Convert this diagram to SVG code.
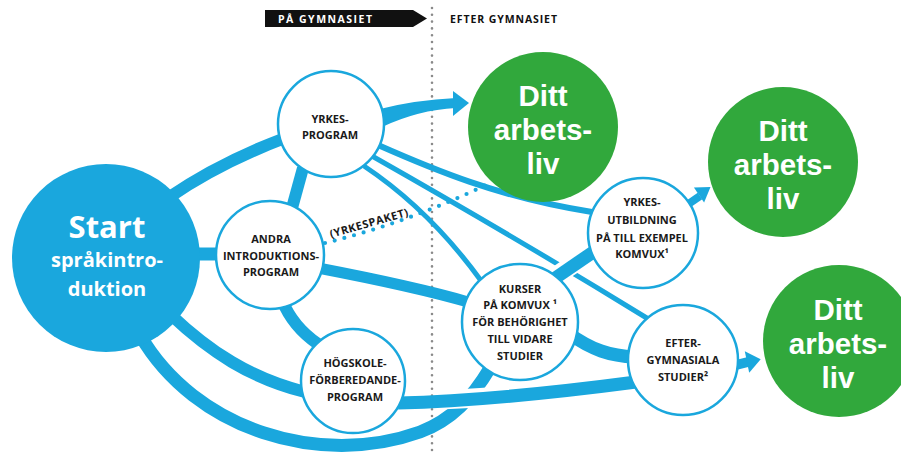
<svg xmlns="http://www.w3.org/2000/svg" width="901" height="454" viewBox="0 0 901 454">
<defs>
<style>
.band{fill:none;stroke:#1aa7dd;stroke-linecap:butt}
.halo{fill:none;stroke:#ffffff}
.blue{fill:#1aa7dd}
.node{fill:#ffffff;stroke:#1aa7dd;stroke-width:2.5}
.green{fill:#31a83c}
.nt{font-family:"Open Sans","Liberation Sans",sans-serif;font-weight:700;font-size:11px;fill:#1a1a1a;text-anchor:middle}
.gt{font-family:"Liberation Sans",Arial,sans-serif;font-weight:700;font-size:29.5px;fill:#ffffff;text-anchor:middle}
.st{font-family:"Open Sans","Liberation Sans",sans-serif;font-weight:700;fill:#ffffff;text-anchor:middle}
.hd{font-family:"Open Sans","Liberation Sans",sans-serif;font-weight:700;font-size:10.5px}
</style>
</defs>
<rect width="901" height="454" fill="#ffffff"/>

<g id="header">
<polygon points="265,10 413,10 427,18.5 413,27 265,27" fill="#111111"/>
<text class="hd" x="278" y="22.5" fill="#ffffff" textLength="94" lengthAdjust="spacing">PÅ GYMNASIET</text>
<text class="hd" x="450" y="22.5" fill="#111111" textLength="107" lengthAdjust="spacing">EFTER GYMNASIET</text>
</g>

<line id="divider" x1="432" y1="8" x2="432" y2="454" stroke="#8a8a8a" stroke-width="2.6" stroke-linecap="round" stroke-dasharray="0 6.8"/>

<g id="connectors">
<path class="band" stroke-width="13" d="M 140 335 C 195 430, 320 468, 420 432 C 452 420, 472 398, 490 368"/>
<path class="band" stroke-width="12" d="M 170 314 C 210 352, 250 378, 305 392"/>
<path class="band" stroke-width="12" d="M 168 198 C 200 176, 240 155, 285 138"/>
<path class="band" stroke-width="13" d="M 185 254 L 222 254"/>
<path class="band" stroke-width="12" d="M 303 168 L 292 208"/>
<path class="band" stroke-width="12" d="M 282 300 C 290 320, 302 333, 318 344"/>
<path class="band" stroke-width="11" d="M 318 268 C 370 278, 420 288, 468 302"/>
<path class="band" stroke-width="6" d="M 378 145 C 430 168, 500 198, 592 212"/>
<path class="band" stroke-width="5" d="M 372 156 Q 520 240 650 320"/>
<path class="band" stroke-width="5" d="M 364 166 Q 430 210 482 282"/>
<path class="halo" stroke-width="19" d="M 556 276 L 596 249"/>
<path class="band" stroke-width="13" d="M 548 283 L 602 246"/>
<path class="band" stroke-width="13" d="M 568 333 C 592 350, 610 356, 635 357"/>
<path class="halo" stroke-width="19" d="M 440 400 C 500 397, 560 391, 600 386"/>
<path class="band" stroke-width="13" d="M 398 403 C 480 401, 560 392, 636 382"/>
<path class="blue" d="M 380 109 Q 415 100 456 98 L 456 108 Q 418 110 382 127 Z"/>
<path class="blue" d="M 453 91 L 469 103 L 453 116 Z"/>
<path class="band" stroke-width="8" d="M 684 207 L 700 196"/>
<path class="blue" d="M 693.9 187.6 L 710.5 187 L 704.1 202.4 Z"/>
<path class="band" stroke-width="10" d="M 732 366 L 748 362"/>
<path class="blue" d="M 744.8 351.2 L 760.7 359.2 L 749.2 372.8 Z"/>
</g>

<g id="yrkespaket">
<path d="M 325 243 Q 410 222 490 183" fill="none" stroke="#1aa7dd" stroke-width="4.2" stroke-linecap="round" stroke-dasharray="0 10"/>
<text class="nt" x="331" y="238" transform="rotate(-16 331 238)" textLength="81" lengthAdjust="spacing" style="text-anchor:start">(YRKESPAKET)</text>
</g>

<g id="start">
<circle class="blue" cx="106" cy="258" r="94"/>
<text class="st" x="107" y="238" font-size="31">Start</text>
<text class="st" x="107" y="267" font-size="20">språkintro-</text>
<text class="st" x="107" y="296" font-size="20">duktion</text>
</g>

<g id="yrkesprogram">
<circle class="node" cx="331" cy="124" r="53"/>
<text class="nt" x="330" y="123">YRKES-</text>
<text class="nt" x="330" y="139">PROGRAM</text>
</g>

<g id="andra">
<circle class="node" cx="270" cy="255" r="54"/>
<text class="nt" x="271" y="243">ANDRA</text>
<text class="nt" x="271" y="260">INTRODUKTIONS-</text>
<text class="nt" x="271" y="276">PROGRAM</text>
</g>

<g id="hogskole">
<circle class="node" cx="353" cy="381" r="52"/>
<text class="nt" x="355" y="367">HÖGSKOLE-</text>
<text class="nt" x="355" y="384">FÖRBEREDANDE-</text>
<text class="nt" x="355" y="401">PROGRAM</text>
</g>

<g id="kurser">
<circle class="node" cx="520" cy="322" r="58"/>
<text class="nt" x="520" y="293">KURSER</text>
<text class="nt" x="520" y="309">PÅ KOMVUX ¹</text>
<text class="nt" x="520" y="326">FÖR BEHÖRIGHET</text>
<text class="nt" x="520" y="343">TILL VIDARE</text>
<text class="nt" x="520" y="360">STUDIER</text>
</g>

<g id="yrkesutbildning">
<circle class="node" cx="643" cy="233" r="55"/>
<text class="nt" x="642" y="206">YRKES-</text>
<text class="nt" x="642" y="224">UTBILDNING</text>
<text class="nt" x="642" y="242">PÅ TILL EXEMPEL</text>
<text class="nt" x="642" y="258">KOMVUX¹</text>
</g>

<g id="eftergymnasiala">
<circle class="node" cx="683" cy="360" r="55"/>
<text class="nt" x="683" y="347">EFTER-</text>
<text class="nt" x="683" y="364">GYMNASIALA</text>
<text class="nt" x="683" y="381">STUDIER²</text>
</g>

<g id="arbetsliv1">
<circle class="green" cx="543" cy="127" r="75"/>
<text class="gt" x="543" y="106">Ditt</text>
<text class="gt" x="543" y="140">arbets-</text>
<text class="gt" x="543" y="174">liv</text>
</g>

<g id="arbetsliv2">
<circle class="green" cx="783" cy="162" r="75"/>
<text class="gt" x="783" y="141">Ditt</text>
<text class="gt" x="783" y="175">arbets-</text>
<text class="gt" x="783" y="209">liv</text>
</g>

<g id="arbetsliv3">
<circle class="green" cx="839" cy="341" r="76"/>
<text class="gt" x="838" y="320">Ditt</text>
<text class="gt" x="838" y="354">arbets-</text>
<text class="gt" x="838" y="388">liv</text>
</g>
</svg>
